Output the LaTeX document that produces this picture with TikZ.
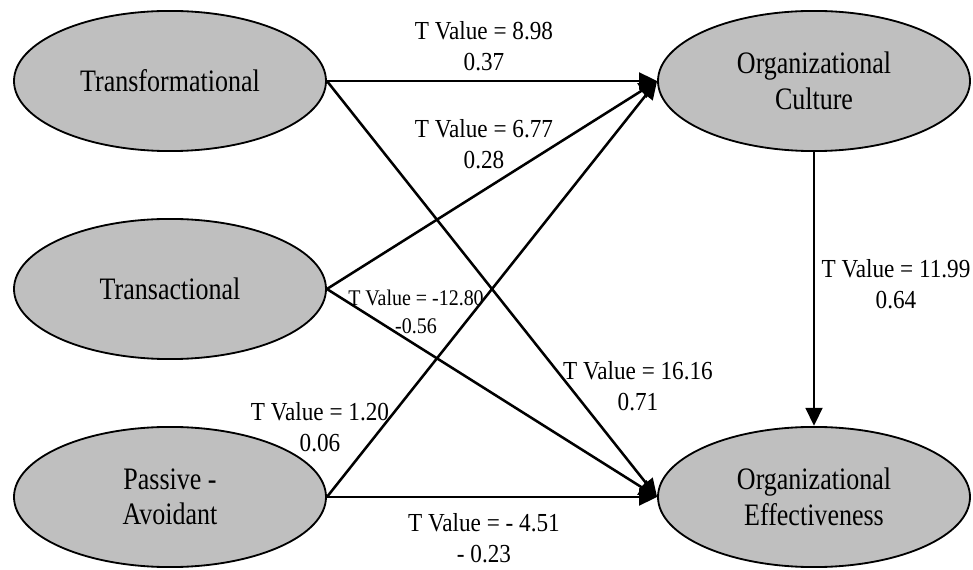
\documentclass[tikz,border=0pt]{standalone}
\usepackage{fontspec}
\setmainfont{Liberation Serif}
\usetikzlibrary{shapes.geometric, arrows.meta, positioning}

\begin{document}
\begin{tikzpicture}
	[on grid, node distance=5.2cm,
	 latent/.style={ellipse, draw, line width=1.3pt, fill=black!25, inner sep=0pt,
	   yscale=1.2, transform shape,
	   minimum width=7.8cm, minimum height=2.92cm, align=center,
	   font=\fontsize{18.5}{21}\selectfont},
	 tval/.style={align=center, yscale=1.12, transform shape,
	   font=\fontsize{16.5}{20}\selectfont},
	 link/.style={-{Triangle[length=0.45cm,width=0.42cm]}, line width=1.8pt}]
   \useasboundingbox (0,0) rectangle (24.325,14.225);
   \node[latent] (trf) at (4.25,12.2) {Transformational};
   \node[latent] (trs) [below=of trf] {Transactional};
   \node[latent] (pas) [below=of trs] {Passive -\\Avoidant};
   \node[latent] (cul) [right=16.1cm of trf] {Organizational\\Culture};
   \node[latent] (eff) [below=10.4cm of cul] {Organizational\\Effectiveness};
       \path[link]
    (trf.east) edge (cul.west)
               edge (eff.west)
    (trs.east) edge (cul.west)
               edge (eff.west)
    (pas.east) edge (cul.west)
               edge (eff.west)
    (cul.south) edge (eff.north);
   % path coefficients
   \node[tval] (t_1) at (12.1,13.075) {T Value = 8.98\\0.37};
   \node[tval] (t_2) at (12.1,10.625) {T Value = 6.77\\0.28};
   \node[tval, font=\fontsize{14.2}{18}\selectfont] (t_3) at (10.4,6.425) {T Value = -12.80\\-0.56};
   \node[tval] (t_4) at (8.0,3.55) {T Value = 1.20\\0.06};
   \node[tval] (t_5) at (15.95,4.575) {T Value = 16.16\\0.71};
   \node[tval] (t_6) at (22.4,7.125) {T Value = 11.99\\0.64};
   \node[tval] (t_7) at (12.1,0.775) {T Value = - 4.51\\- 0.23};
\end{tikzpicture}
\end{document}
